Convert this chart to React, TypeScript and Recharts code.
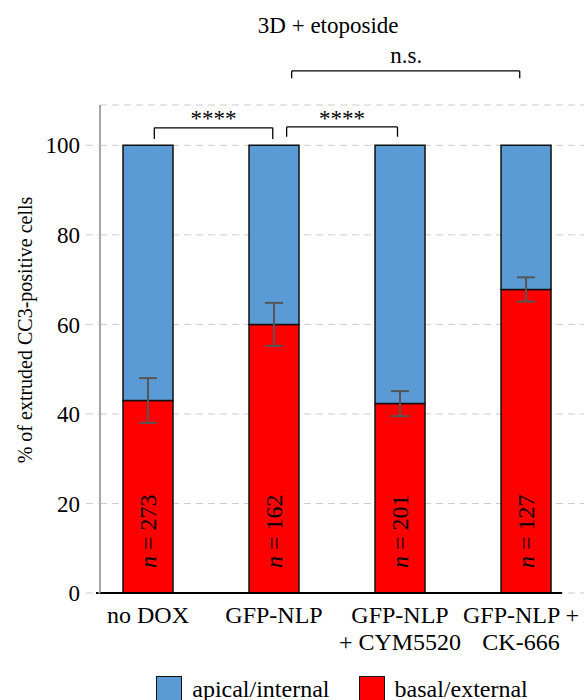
import React from 'react';
import {
  ComposedChart, Bar, Line, XAxis, YAxis, CartesianGrid, ErrorBar, LabelList,
  ReferenceLine, ReferenceDot,
} from 'recharts';

const categoryLines = [['no DOX'], ['GFP-NLP'], ['GFP-NLP', '+ CYM5520'], ['GFP-NLP +', 'CK-666']];
const basalValues = [43.0, 60.0, 42.3, 67.8];
const apicalValues = [57.0, 40.0, 57.7, 32.2];
const basalErrors = [5.0, 4.8, 2.8, 2.7];
const cellCounts = [273, 162, 201, 127];
const yTicks = [0, 20, 40, 60, 80, 100];

const seriesNames = { apical: 'apical/internal', basal: 'basal/external' };
const colors = { apical: '#5b9bd5', basal: '#ff0000' };

// significance brackets (x in category units, y in % units)
const brackets = [
  { x1: 0.05, x2: 0.99, y: 103.9, drop: 2.5, label: '****', lx: 0.52, ly: 106.1 },
  { x1: 1.10, x2: 1.98, y: 104.1, drop: 2.2, label: '****', lx: 1.54, ly: 106.1 },
  { x1: 1.14, x2: 2.95, y: 116.6, drop: 1.6, label: 'n.s.', lx: 2.05, ly: 120.2 },
];

const data = categoryLines.map((lines, i) => ({
  idx: i,
  basal: basalValues[i],
  apical: apicalValues[i],
  err: basalErrors[i],
  n: cellCounts[i],
}));

const FONT = 'Liberation Serif';

const CategoryTick = (props: any) => {
  const { x, y, payload } = props;
  const lines = categoryLines[payload.value] || [];
  const dx = payload.value === 3 ? -5 : 0;
  return (
    <g>
      {lines.map((t, k) => (
        <text key={k} x={x + dx} y={y + 30 + k * 27} textAnchor="middle" fontSize={24} fill="#000" style={{ fontFamily: FONT }}>
          {t}
        </text>
      ))}
    </g>
  );
};

const CountLabel = (props: any) => {
  const { x, y, width, height, index } = props;
  const cx = x + width / 2;
  const by = y + height - 25;
  return (
    <text
      x={cx}
      y={by}
      transform={`rotate(-90 ${cx} ${by})`}
      textAnchor="start"
      dominantBaseline="central"
      fontSize={24}
      fill="#000"
      style={{ fontFamily: FONT }}
    >
      <tspan fontStyle="italic">n</tspan> = {cellCounts[index]}
    </text>
  );
};

const YTitle = () => (
  <text
    x={25}
    y={330}
    transform="rotate(-90 25 330)"
    textAnchor="middle"
    dominantBaseline="central"
    fontSize={20}
    fill="#000"
    style={{ fontFamily: FONT }}
  >
    % of extruded CC3-positive cells
  </text>
);

export default function App() {
  const legendItems = [
    { name: seriesNames.apical, color: colors.apical },
    { name: seriesNames.basal, color: colors.basal },
  ];
  return (
    <div style={{ position: 'absolute', left: 0, top: 0, width: 584, height: 700, overflow: 'hidden', background: '#fff', fontFamily: FONT }}>
      <ComposedChart width={584} height={700} data={data} margin={{ top: 105, right: 0, bottom: 0, left: 0 }} style={{ fontFamily: FONT }}>
        <CartesianGrid vertical={false} stroke="#cccccc" strokeDasharray="7 5" />
        <XAxis
          dataKey="idx"
          type="number"
          domain={[-0.381, 3.46]}
          ticks={[0, 1, 2, 3]}
          allowDataOverflow
          axisLine={false}
          tickLine={false}
          tickSize={0}
          tickMargin={0}
          height={107}
          tick={<CategoryTick />}
        />
        <YAxis
          width={100}
          domain={[0, 109]}
          ticks={yTicks}
          allowDataOverflow
          axisLine={{ stroke: '#888', strokeWidth: 1.5 }}
          tickLine={{ stroke: '#cccccc', strokeDasharray: '7 5' }}
          tickSize={14}
          tickMargin={6}
          tick={{ fill: '#000', fontSize: 23, fontFamily: FONT }}
          label={<YTitle />}
        />
        <Bar dataKey="basal" stackId="s" fill={colors.basal} stroke="#111" strokeWidth={1.5} barSize={50} isAnimationActive={false}>
          <LabelList dataKey="n" content={<CountLabel />} />
        </Bar>
        <Bar dataKey="apical" stackId="s" fill={colors.apical} stroke="#111" strokeWidth={1.5} barSize={50} isAnimationActive={false} />
        <Line dataKey="basal" stroke="none" dot={false} activeDot={false} isAnimationActive={false} legendType="none">
          <ErrorBar dataKey="err" direction="y" width={9} stroke="#555" strokeWidth={2} />
        </Line>
        <ReferenceLine
          segment={[{ x: -0.413, y: 0 }, { x: 3.286, y: 0 }]}
          stroke="#000"
          strokeWidth={2}
          ifOverflow="visible"
        />
        {brackets.map((b, i) => (
          <React.Fragment key={i}>
            <ReferenceLine segment={[{ x: b.x1, y: b.y }, { x: b.x2, y: b.y }]} stroke="#000" strokeWidth={1.3} ifOverflow="visible" />
            <ReferenceLine segment={[{ x: b.x1, y: b.y }, { x: b.x1, y: b.y - b.drop }]} stroke="#000" strokeWidth={1.3} ifOverflow="visible" />
            <ReferenceLine segment={[{ x: b.x2, y: b.y }, { x: b.x2, y: b.y - b.drop }]} stroke="#000" strokeWidth={1.3} ifOverflow="visible" />
            <ReferenceDot
              x={b.lx}
              y={b.ly}
              r={0}
              fill="none"
              stroke="none"
              ifOverflow="visible"
              label={{ value: b.label, position: 'center', fill: '#000', fontSize: 23, fontFamily: FONT }}
            />
          </React.Fragment>
        ))}
        <ReferenceDot
          x={1.43}
          y={126.9}
          r={0}
          fill="none"
          stroke="none"
          ifOverflow="visible"
          label={{ value: '3D + etoposide', position: 'center', fill: '#000', fontSize: 23, fontFamily: FONT }}
        />
      </ComposedChart>
      <div style={{ position: 'absolute', left: 100, top: 676, width: 484, display: 'flex', justifyContent: 'center', gap: 29 }}>
        {legendItems.map((it) => (
          <div key={it.name} style={{ display: 'flex', alignItems: 'center', height: 26 }}>
            <div style={{ width: 24, height: 24, background: it.color, border: '1px solid #111', marginRight: 10 }} />
            <span style={{ fontSize: 24, color: '#000', lineHeight: '26px' }}>{it.name}</span>
          </div>
        ))}
      </div>
    </div>
  );
}
